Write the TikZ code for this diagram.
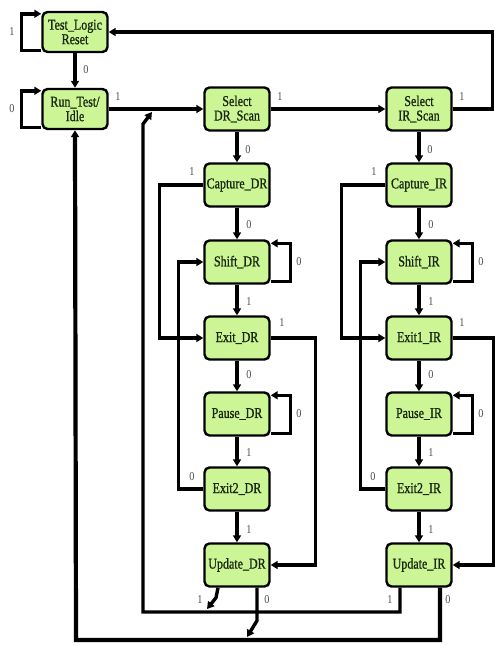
\documentclass[tikz,border=0pt]{standalone}
\usepackage{fontspec}
\newfontfamily\statefont{Liberation Serif}[FakeStretch=0.8,FakeBold=1]
\newfontfamily\labfont{Liberation Serif}[FakeStretch=0.85]
\usetikzlibrary{arrows.meta,calc}
\definecolor{stfill}{RGB}{204,245,150}
\definecolor{sttext}{RGB}{25,40,15}
\begin{document}
\begin{tikzpicture}[x=1pt,y=-1pt,
  state/.style={draw=black, line width=2.4pt, fill=stfill, rounded corners=5pt,
    minimum width=65pt, minimum height=43pt, inner sep=1pt, align=center,
    text=sttext, font=\statefont\fontsize{15}{14.5}\selectfont},
  conn/.style={line width=3.4pt, -{Triangle[length=7pt,width=8pt]}},
  lab/.style={font=\labfont\fontsize{12}{12}\selectfont, text=black!70, inner sep=0pt}]
\useasboundingbox (0,0) rectangle (495,646);
% states
\node[state, minimum height=40pt] (TLR) at (75,32) {Test\_Logic\\Reset};
\node[state, minimum height=40pt] (RTI) at (75,109) {Run\_Test/\\Idle};
\node[state] (SDR) at (237,109) {Select\\DR\_Scan};
\node[state] (SIR) at (419,109) {Select\\IR\_Scan};
\node[state] (CDR) at (237,185) {Capture\_DR};
\node[state] (CIR) at (419,185) {Capture\_IR};
\node[state] (ShDR) at (237,262) {Shift\_DR};
\node[state] (ShIR) at (419,262) {Shift\_IR};
\node[state] (EDR) at (237,338) {Exit\_DR};
\node[state] (EIR) at (419,338) {Exit1\_IR};
\node[state] (PDR) at (237,414) {Pause\_DR};
\node[state] (PIR) at (419,414) {Pause\_IR};
\node[state] (E2DR) at (237,489) {Exit2\_DR};
\node[state] (E2IR) at (419,489) {Exit2\_IR};
\node[state] (UDR) at (237,565) {Update\_DR};
\node[state] (UIR) at (419,565) {Update\_IR};
% helper coordinates
\coordinate (rt) at (492.5,32);
\coordinate (b1) at (143,612);
\coordinate (k1) at (143,124);
\coordinate (m1) at (152,112);
\coordinate (d1) at (207,609);
\coordinate (b2) at (76,640);
\coordinate (d2) at (247,637);
% self loops
\draw[conn] ([yshift=3pt]TLR.south west) -- ++(-20,0) |- ([yshift=-3pt]TLR.north west);
\draw[conn] ([yshift=3pt]RTI.south west) -- ++(-20,0) |- ([yshift=-3pt]RTI.north west);
\foreach \n in {ShDR,PDR,ShIR,PIR}{
  \draw[conn] ([yshift=3pt]\n.south east) -- ++(20,0) |- ([yshift=-4pt]\n.north east);
}
% straight transitions
\draw[conn] (TLR) -- (RTI);
\draw[conn] (RTI) -- (SDR);
\draw[conn] (SDR) -- (SIR);
\draw[conn] (SIR.east) -| (rt) -- (TLR.east);
\draw[conn] (SDR) -- (CDR);
\draw[conn] (CDR) -- (ShDR);
\draw[conn] (ShDR) -- (EDR);
\draw[conn] (EDR) -- (PDR);
\draw[conn] (PDR) -- (E2DR);
\draw[conn] (E2DR) -- (UDR);
\draw[conn] (SIR) -- (CIR);
\draw[conn] (CIR) -- (ShIR);
\draw[conn] (ShIR) -- (EIR);
\draw[conn] (EIR) -- (PIR);
\draw[conn] (PIR) -- (E2IR);
\draw[conn] (E2IR) -- (UIR);
% side routes
\draw[conn] (CDR.west) -- ++(-44,0) |- (EDR.west);
\draw[conn] (CIR.west) -- ++(-44,0) |- (EIR.west);
\draw[conn] (E2DR.west) -- ++(-25,0) |- (ShDR.west);
\draw[conn] (E2IR.west) -- ++(-25,0) |- (ShIR.west);
\draw[conn] (EDR.east) -- ++(45,0) |- (UDR.east);
\draw[conn] (EIR.east) -- ++(41,0) |- (UIR.east);
% update returns
\draw[conn] ([xshift=-19pt]UIR.south) |- (b1) -- (k1) -- (m1);
\draw[conn] ([xshift=-19pt]UDR.south) -- ++(-2,10) -- (d1);
\draw[conn, line width=4.2pt] ([xshift=21pt]UIR.south) |- (b2) -- (RTI.south);
\draw[conn] ([xshift=20pt]UDR.south) -- ++(0,33) -- (d2);
% labels
\node[lab] (l01) at (12,32) {1};
\node[lab] (l02) at (12,109) {0};
\node[lab] (l03) at (86,70) {0};
\node[lab] (l04) at (118,97) {1};
\node[lab] (l05) at (280,97) {1};
\node[lab] (l06) at (462,97) {1};
\node[lab] (l07) at (248,150) {0};
\node[lab] (l08) at (430,150) {0};
\node[lab] (l09) at (192,172) {1};
\node[lab] (l10) at (374,172) {1};
\node[lab] (l11) at (249,225) {0};
\node[lab] (l12) at (431,225) {0};
\node[lab] (l13) at (299,262) {0};
\node[lab] (l14) at (481,262) {0};
\node[lab] (l15) at (249,302) {1};
\node[lab] (l16) at (431,302) {1};
\node[lab] (l17) at (282,323) {1};
\node[lab] (l18) at (462,323) {1};
\node[lab] (l19) at (249,375) {0};
\node[lab] (l20) at (431,375) {0};
\node[lab] (l21) at (299,414) {0};
\node[lab] (l22) at (481,414) {0};
\node[lab] (l23) at (249,453) {1};
\node[lab] (l24) at (431,453) {1};
\node[lab] (l25) at (192,477) {0};
\node[lab] (l26) at (373,477) {0};
\node[lab] (l27) at (249,530) {1};
\node[lab] (l28) at (431,530) {1};
\node[lab] (l29) at (200,600) {1};
\node[lab] (l30) at (267,600) {0};
\node[lab] (l31) at (390,600) {1};
\node[lab] (l32) at (448,600) {0};
\end{tikzpicture}
\end{document}
